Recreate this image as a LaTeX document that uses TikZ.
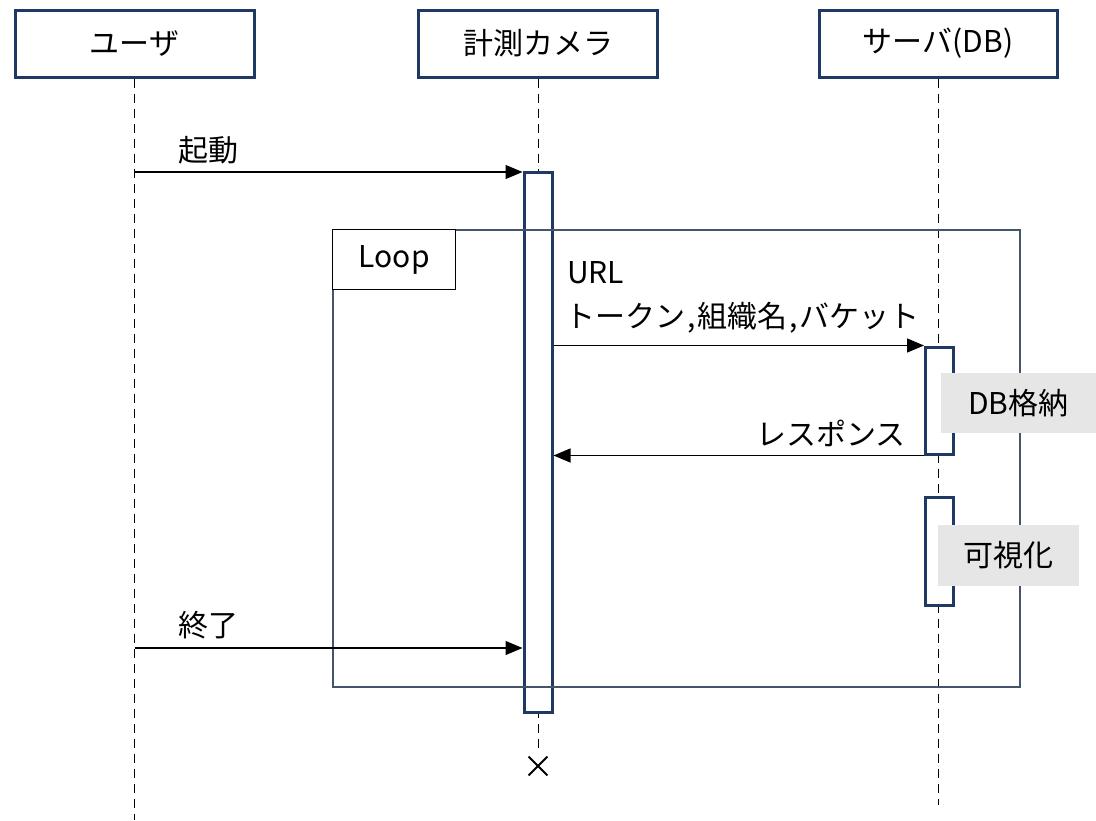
\documentclass[tikz,border=0pt]{standalone}
\usepackage{fontspec}
\setmainfont{Noto Sans CJK JP}
\usetikzlibrary{arrows.meta,shapes.misc}
\definecolor{navy}{HTML}{203864}
\definecolor{framec}{HTML}{44546A}
\definecolor{lgrey}{HTML}{E6E6E6}
\begin{document}
\begin{tikzpicture}[x=1pt,y=-1pt,
  font=\fontsize{30}{36}\selectfont,
  head/.style={draw=navy, line width=3pt, fill=white, minimum width=239pt, minimum height=67pt, inner sep=0},
  life/.style={dash pattern=on 9pt off 6pt, line width=1pt},
  act/.style={draw=navy, line width=3pt, fill=white, minimum width=28pt, inner sep=0},
  msg/.style={line width=1.3pt, -{Triangle[length=17pt,width=14pt]}},
  note/.style={fill=lgrey, inner sep=0},
  lbl/.style={inner sep=0}]
\useasboundingbox (0,0) rectangle (1096,820);
% headers
\node[head] (u) at (134.5,43.5) {ユーザ};
\node[head] (c) at (538,43.5) {計測カメラ};
\node[head, minimum width=238pt] (s) at (938,43.5) {サーバ(DB)};
% lifeline ends
\coordinate (uend) at (134.5,820);
\coordinate (cend) at (538,752);
\coordinate (send) at (938,805);
\draw[life] (u.south) -- (uend);
\draw[life] (c.south) -- (cend);
\draw[life] (s.south) -- (send);
\node[cross out, draw, line width=1.8pt, minimum size=17pt, inner sep=0] (x) at (538,766) {};
% activations
\node[act, minimum height=540pt] (ca) at (538,442) {};
\node[act, minimum height=107pt] (sa1) at (939.5,400.5) {};
\node[act, minimum height=108pt] (sa2) at (939.5,551) {};
% loop frame
\node[draw=framec, line width=1.4pt, minimum width=687pt, minimum height=457pt, inner sep=0] (loop) at (676.5,458.5) {};
\node[draw=black, line width=1pt, fill=white, minimum width=123pt, minimum height=60pt, inner sep=0, anchor=north west] (looplbl) at (loop.north west) {Loop};
% messages
\coordinate (u1) at (134.5,172);
\coordinate (u2) at (134.5,648);
\draw[msg] (u1) -- (u1 -| ca.west);
\node[lbl, anchor=west] (t1) at (178,150) {起動};
\draw[msg] (ca.east |- sa1.north west) -- (sa1.north west);
\node[lbl, anchor=west] (t2) at (567,273) {URL};
\node[lbl, anchor=west] (t3) at (565,318) {トークン\kern2pt,\kern2pt組織名\kern2pt,\kern2ptバケット};
\draw[msg] (sa1.south west) -- (sa1.south west -| ca.east);
\node[lbl, anchor=east] (t4) at (906,433) {レスポンス};
\draw[msg] (u2) -- (u2 -| ca.west);
\node[lbl, anchor=west] (t5) at (178,625) {終了};
% notes
\node[note, minimum width=155pt, minimum height=60pt] (n1) at (1018.5,403) {DB格納};
\node[note, minimum width=141pt, minimum height=61pt] (n2) at (1008.5,555.5) {可視化};
\end{tikzpicture}
\end{document}
